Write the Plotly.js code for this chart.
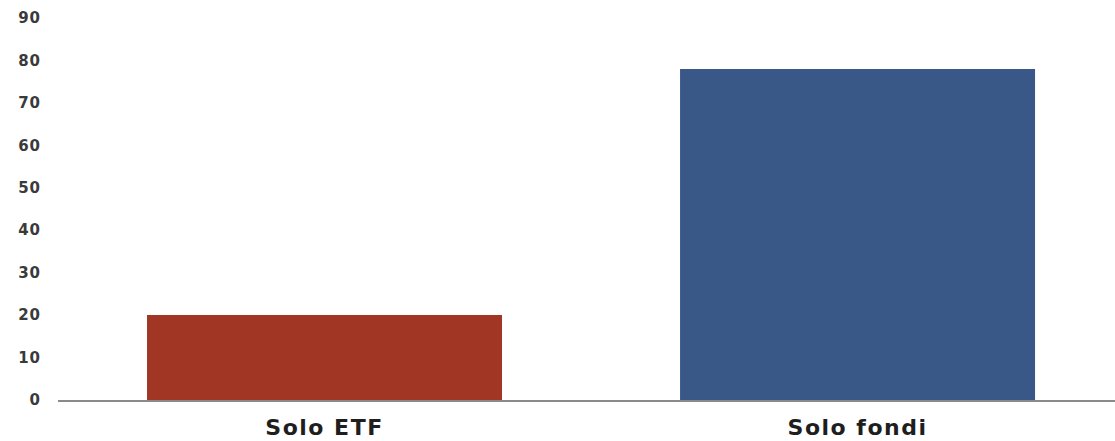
<!DOCTYPE html>
<html>
<head>
<meta charset="utf-8">
<script src="https://cdn.plot.ly/plotly-3.0.1.min.js"></script>
<style>
html,body{margin:0;padding:0;background:#fff;}
#chart{width:1115px;height:441px;}
#chart .xtick text{letter-spacing:1.5px;}
#chart .ytick text{letter-spacing:1px;}
</style>
</head>
<body>
<div id="chart"></div>
<script>
const categories = ["Solo ETF", "Solo fondi"];
const values = [20, 78];
const barColors = ["#A23624", "#3A5887"];
const yTicks = [0, 10, 20, 30, 40, 50, 60, 70, 80, 90];

Plotly.newPlot("chart", [{
  type: "bar",
  x: categories,
  y: values,
  width: 0.666,
  marker: {color: barColors, line: {width: 0}},
  hoverinfo: "none"
}], {
  width: 1115,
  height: 441,
  margin: {l: 58, r: 0, t: 18, b: 41},
  paper_bgcolor: "#fff",
  plot_bgcolor: "#fff",
  showlegend: false,
  xaxis: {
    type: "category",
    range: [-0.5, 1.483],
    showgrid: false,
    zeroline: false,
    showline: true,
    linecolor: "#8a8a8a",
    linewidth: 1.5,
    ticks: "",
    ticklabelstandoff: 7,
    tickfont: {family: "DejaVu Sans", size: 22, color: "#1e1e1e", weight: 700}
  },
  yaxis: {
    range: [0, 90],
    tickvals: yTicks,
    showgrid: false,
    zeroline: false,
    showline: false,
    ticks: "",
    ticklabelstandoff: 16,
    tickfont: {family: "DejaVu Sans", size: 15, color: "#3a3a3a", weight: 700}
  }
}, {staticPlot: true});
</script>
</body>
</html>
